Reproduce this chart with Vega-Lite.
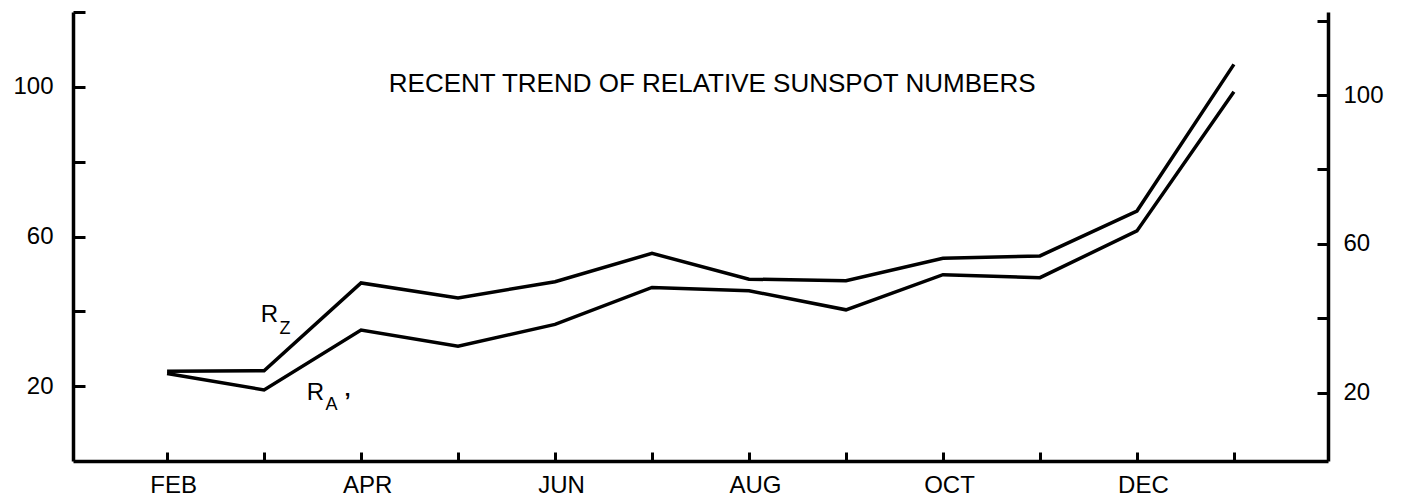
{
  "$schema": "https://vega.github.io/schema/vega-lite/v6.json",
  "width": 1255,
  "height": 449,
  "autosize": {"type": "none"},
  "padding": {"left": 73, "top": 12, "right": 75, "bottom": 38},
  "background": "white",
  "config": {
    "view": {"stroke": null},
    "font": "Liberation Sans",
    "axis": {
      "grid": false,
      "domainColor": "black",
      "tickColor": "black",
      "labelColor": "black",
      "domainWidth": 3.5,
      "tickWidth": 3,
      "labelFont": "Liberation Sans",
      "labelFontSize": 24,
      "title": null
    }
  },
  "datasets": {
    "series": [
      {"series": "R_Z", "month": "FEB", "m": 2, "value": 24.0},
      {"series": "R_Z", "month": "MAR", "m": 3, "value": 24.1},
      {"series": "R_Z", "month": "APR", "m": 4, "value": 47.6},
      {"series": "R_Z", "month": "MAY", "m": 5, "value": 43.6},
      {"series": "R_Z", "month": "JUN", "m": 6, "value": 47.9},
      {"series": "R_Z", "month": "JUL", "m": 7, "value": 55.5},
      {"series": "R_Z", "month": "AUG", "m": 8, "value": 48.6},
      {"series": "R_Z", "month": "SEP", "m": 9, "value": 48.2},
      {"series": "R_Z", "month": "OCT", "m": 10, "value": 54.2},
      {"series": "R_Z", "month": "NOV", "m": 11, "value": 54.8},
      {"series": "R_Z", "month": "DEC", "m": 12, "value": 66.8},
      {"series": "R_Z", "month": "JAN", "m": 13, "value": 106.0},
      {"series": "R_A'", "month": "FEB", "m": 2, "value": 23.4},
      {"series": "R_A'", "month": "MAR", "m": 3, "value": 19.0},
      {"series": "R_A'", "month": "APR", "m": 4, "value": 35.0},
      {"series": "R_A'", "month": "MAY", "m": 5, "value": 30.7},
      {"series": "R_A'", "month": "JUN", "m": 6, "value": 36.5},
      {"series": "R_A'", "month": "JUL", "m": 7, "value": 46.4},
      {"series": "R_A'", "month": "AUG", "m": 8, "value": 45.5},
      {"series": "R_A'", "month": "SEP", "m": 9, "value": 40.4},
      {"series": "R_A'", "month": "OCT", "m": 10, "value": 49.8},
      {"series": "R_A'", "month": "NOV", "m": 11, "value": 49.0},
      {"series": "R_A'", "month": "DEC", "m": 12, "value": 61.5},
      {"series": "R_A'", "month": "JAN", "m": 13, "value": 98.7}
    ],
    "titleText": [
      {"label": "RECENT TREND OF RELATIVE SUNSPOT NUMBERS", "m": 7.62, "v": 98.6}
    ],
    "bigLabels": [
      {"label": "R", "m": 3.056, "v": 37.15},
      {"label": "R", "m": 3.53, "v": 16.3}
    ],
    "subLabels": [
      {"label": "Z", "m": 3.216, "v": 33.94},
      {"label": "A", "m": 3.695, "v": 13.63}
    ],
    "apostrophe": [
      {"label": "’", "m": 3.86, "v": 18.6}
    ]
  },
  "layer": [
    {
      "data": {"name": "series"},
      "mark": {"type": "line", "color": "black", "strokeWidth": 3.5, "strokeJoin": "miter"},
      "encoding": {
        "x": {
          "field": "m", "type": "quantitative",
          "scale": {"domain": [1.03, 13.97], "nice": false, "zero": false},
          "axis": {
            "orient": "bottom",
            "values": [2, 3, 4, 5, 6, 7, 8, 9, 10, 11, 12, 13],
            "tickSize": -9,
            "labelPadding": 21,
            "labelOffset": 6,
            "labelBaseline": "top",
            "labelExpr": "datum.value % 2 == 0 && datum.value <= 12 ? ['','JAN','FEB','MAR','APR','MAY','JUN','JUL','AUG','SEP','OCT','NOV','DEC'][datum.value] : ''"
          }
        },
        "y": {
          "field": "value", "type": "quantitative",
          "scale": {"domain": [0, 120], "nice": false, "zero": false},
          "axis": {
            "orient": "left",
            "values": [20, 40, 60, 80, 100, 120],
            "tickSize": -12,
            "labelPadding": 32,
            "labelExpr": "datum.value % 40 == 20 ? datum.label : ''"
          }
        },
        "detail": {"field": "series"}
      }
    },
    {
      "data": {"name": "titleText"},
      "mark": {"type": "text", "fontSize": 26, "align": "center", "baseline": "alphabetic", "color": "black"},
      "encoding": {
        "x": {"field": "m", "type": "quantitative", "scale": {"domain": [1.03, 13.97], "nice": false, "zero": false}},
        "y": {"field": "v", "type": "quantitative", "scale": {"domain": [0, 120], "nice": false, "zero": false}, "axis": null},
        "text": {"field": "label"}
      }
    },
    {
      "data": {"name": "bigLabels"},
      "mark": {"type": "text", "fontSize": 24, "align": "center", "baseline": "alphabetic", "color": "black"},
      "encoding": {
        "x": {"field": "m", "type": "quantitative", "scale": {"domain": [1.03, 13.97], "nice": false, "zero": false}},
        "y": {"field": "v", "type": "quantitative", "scale": {"domain": [0, 120], "nice": false, "zero": false}, "axis": null},
        "text": {"field": "label"}
      }
    },
    {
      "data": {"name": "subLabels"},
      "mark": {"type": "text", "fontSize": 18, "align": "center", "baseline": "alphabetic", "color": "black"},
      "encoding": {
        "x": {"field": "m", "type": "quantitative", "scale": {"domain": [1.03, 13.97], "nice": false, "zero": false}},
        "y": {"field": "v", "type": "quantitative", "scale": {"domain": [0, 120], "nice": false, "zero": false}, "axis": null},
        "text": {"field": "label"}
      }
    },
    {
      "data": {"name": "apostrophe"},
      "mark": {"type": "text", "fontSize": 22, "fontWeight": "bold", "align": "center", "baseline": "top", "color": "black"},
      "encoding": {
        "x": {"field": "m", "type": "quantitative", "scale": {"domain": [1.03, 13.97], "nice": false, "zero": false}},
        "y": {"field": "v", "type": "quantitative", "scale": {"domain": [0, 120], "nice": false, "zero": false}, "axis": null},
        "text": {"field": "label"}
      }
    },
    {
      "data": {"name": "series"},
      "mark": {"type": "point", "opacity": 0},
      "encoding": {
        "x": {"field": "m", "type": "quantitative", "scale": {"domain": [1.03, 13.97], "nice": false, "zero": false}},
        "y": {
          "field": "value", "type": "quantitative",
          "scale": {"domain": [1.7, 122.3], "nice": false, "zero": false},
          "axis": {
            "orient": "right",
            "values": [20, 40, 60, 80, 100, 120],
            "tickSize": -11,
            "labelPadding": 26,
            "labelAlign": "left",
            "labelExpr": "datum.value % 40 == 20 ? datum.label : ''"
          }
        }
      }
    }
  ],
  "resolve": {"scale": {"y": "independent"}, "axis": {"y": "independent"}}
}
